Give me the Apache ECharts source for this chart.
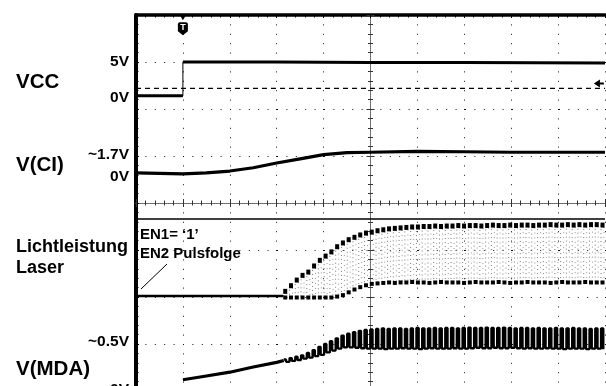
<!DOCTYPE html>
<html>
<head>
<meta charset="utf-8">
<script src="https://cdn.jsdelivr.net/npm/echarts@6/dist/echarts.min.js"></script>
<style>
html, body { margin: 0; padding: 0; background: #fff; }
#main { width: 606px; height: 386px; }
</style>
</head>
<body>
<div id="main"></div>
<script>
// Scope screen: time and level are both in divisions, 0 = centre of the graticule

// VCC: 0V before the trigger, then 5V
var vccBefore = [[-5, 2.28], [-4.0, 2.28]];
var vccEdge = [[-4.0, 2.28], [-4.0, 3.0]];
var vccAfter = [[-4.0, 3.0], [-2, 3.0], [0, 2.99], [2, 2.99], [5, 2.98]];
var vccRef = [[-5, 2.44], [5, 2.44]];

// V(CI): slow rise to ~1.7V
var vciTrace = [[-5, 0.64], [-4, 0.62], [-3.5, 0.64], [-3, 0.68], [-2.5, 0.75], [-2, 0.85],
    [-1.5, 0.94], [-1, 1.03], [-0.5, 1.07], [0, 1.08], [1, 1.10], [2, 1.09], [3, 1.08], [4, 1.08], [5, 1.08]];

var sepLine = [[-5, -0.34], [5, -0.34]];

// Lichtleistung Laser: flat, then pulse train (EN2)
var laserBase = [[-5, -1.98], [-1.86, -1.98]];
var pulseStart = -1.85;
var pulsePeriod = 0.123;
var pulseDuty = 0.4;
var laserHigh = [-1.88, -1.76, -1.64, -1.54, -1.47, -1.34, -1.22, -1.13, -1.04, -0.93,
    -0.85, -0.78, -0.73, -0.68, -0.64, -0.62, -0.59, -0.57, -0.55, -0.54,
    -0.53, -0.52, -0.51, -0.51, -0.50, -0.50, -0.49, -0.50, -0.49, -0.49,
    -0.48, -0.49, -0.48, -0.48, -0.49, -0.48, -0.47, -0.48, -0.48, -0.47,
    -0.48, -0.47, -0.47, -0.48, -0.47, -0.47, -0.46, -0.47, -0.47, -0.46,
    -0.47, -0.46, -0.47, -0.46, -0.46, -0.47];
var laserLow = [-2.0, -2.0, -2.0, -2.0, -2.0, -2.0, -2.0, -2.0, -2.0, -1.98,
    -1.95, -1.89, -1.83, -1.78, -1.74, -1.71, -1.70, -1.69, -1.68, -1.69,
    -1.68, -1.68, -1.67, -1.68, -1.68, -1.69, -1.68, -1.67, -1.68, -1.68,
    -1.68, -1.69, -1.68, -1.67, -1.68, -1.68, -1.68, -1.67, -1.68, -1.69,
    -1.68, -1.68, -1.67, -1.68, -1.68, -1.68, -1.69, -1.68, -1.67, -1.68,
    -1.68, -1.68, -1.67, -1.68, -1.68, -1.68];

// V(MDA): ramp, then follows the pulses
var mdaBefore = [[-5, -3.97], [-4.0, -3.97]];
var mdaRamp = [[-4.0, -3.76], [-3.5, -3.68], [-3, -3.60], [-2.5, -3.49], [-2, -3.39], [-1.85, -3.35]];
var mdaHigh = [-3.33, -3.30, -3.27, -3.24, -3.19, -3.13, -3.06, -3.00, -2.94, -2.88,
    -2.82, -2.78, -2.75, -2.72, -2.70, -2.69, -2.68, -2.67, -2.68, -2.67,
    -2.67, -2.68, -2.67, -2.66, -2.67, -2.67, -2.66, -2.67, -2.66, -2.66,
    -2.67, -2.66, -2.65, -2.66, -2.66, -2.65, -2.66, -2.66, -2.65, -2.66,
    -2.67, -2.66, -2.66, -2.67, -2.66, -2.67, -2.67, -2.66, -2.67, -2.67,
    -2.66, -2.67, -2.67, -2.68, -2.67, -2.67];
var mdaLow = [-3.38, -3.36, -3.34, -3.31, -3.29, -3.26, -3.23, -3.18, -3.14, -3.10,
    -3.07, -3.07, -3.08, -3.09, -3.10, -3.10, -3.10, -3.11, -3.10, -3.10,
    -3.09, -3.10, -3.10, -3.11, -3.10, -3.09, -3.10, -3.10, -3.10, -3.09,
    -3.10, -3.10, -3.09, -3.08, -3.09, -3.09, -3.08, -3.09, -3.09, -3.08,
    -3.09, -3.10, -3.09, -3.10, -3.10, -3.09, -3.10, -3.10, -3.11, -3.10,
    -3.10, -3.10, -3.11, -3.10, -3.10, -3.11];

// labels on the left edge
var levelValues = [3.0, 2.23, 1.02, 0.55, -2.96, -3.98];
var levelLabels = ['5V', '0V', '~1.7V', '0V', '~0.5V', '0V'];
var channelValues = [2.56, 0.81, -1.17, -3.53];
var channelLabels = ['{b|VCC}', '{b|V(CI)}', '{s|Lichtleistung}\n{s|Laser}', '{b|V(MDA)}'];

var FONT = '"Liberation Sans", Arial, sans-serif';

var laserPulses = laserHigh.map(function (h, i) {
    return [pulseStart + i * pulsePeriod, h, laserLow[i]];
});
var mdaWave = [];
mdaHigh.forEach(function (h, i) {
    var t = pulseStart + i * pulsePeriod;
    mdaWave.push([t, h], [t + pulsePeriod * pulseDuty, mdaLow[i]]);
});

var chartDom = document.getElementById('main');
var myChart = echarts.init(chartDom);
var option;

var dotted = { color: '#111', width: 1, type: [1, 8.4] };

function trace(name, data, width, extra) {
    var s = {
        type: 'line',
        name: name,
        data: data,
        symbol: 'none',
        silent: true,
        lineStyle: { color: '#000', width: width }
    };
    return Object.assign(s, extra || {});
}

function centreX(pos) {
    return {
        type: 'value', min: -5, max: 5, interval: 1, position: pos,
        axisLine: { onZero: true, onZeroAxisIndex: 0, lineStyle: { color: '#666', width: 1, type: [1, 1] } },
        axisTick: { show: true, inside: true, length: 4, lineStyle: { color: '#333' } },
        minorTick: { show: true, splitNumber: 5, length: 2.5, lineStyle: { color: '#333' } },
        axisLabel: { show: false },
        splitLine: { show: false }
    };
}

function centreY(pos) {
    return {
        type: 'value', min: -4, max: 4, interval: 1, position: pos,
        axisLine: { onZero: true, onZeroAxisIndex: 0, lineStyle: { color: '#666', width: 1, type: [1, 1] } },
        axisTick: { show: true, inside: true, length: 4, lineStyle: { color: '#333' } },
        minorTick: { show: true, splitNumber: 5, length: 2.5, lineStyle: { color: '#333' } },
        axisLabel: { show: false },
        splitLine: { show: false }
    };
}

option = {
    animation: false,
    backgroundColor: '#fff',
    grid: { left: 136, top: 15, width: 469, height: 376, outerBoundsMode: 'none' },
    xAxis: [
        {
            // top frame
            type: 'value', min: -5, max: 5, interval: 1, position: 'top',
            axisLine: { onZero: false, lineStyle: { color: '#000', width: 3.5 } },
            axisTick: { show: true, inside: true, length: 3, lineStyle: { color: '#000' } },
            minorTick: { show: true, splitNumber: 5, length: 2.5, lineStyle: { color: '#000' } },
            axisLabel: { show: false },
            splitLine: { show: true, lineStyle: dotted }
        },
        centreX('bottom'),
        centreX('top')
    ],
    yAxis: [
        {
            // left frame with level labels
            type: 'value', min: -4, max: 4, interval: 1, position: 'left',
            axisLine: { onZero: false, lineStyle: { color: '#000', width: 4 } },
            axisTick: { show: true, inside: true, length: 3, lineStyle: { color: '#000' } },
            minorTick: { show: true, splitNumber: 5, length: 2.5, lineStyle: { color: '#000' } },
            splitLine: { show: true, lineStyle: dotted },
            axisLabel: {
                customValues: levelValues,
                margin: 7,
                color: '#000',
                fontFamily: FONT,
                fontWeight: 'bold',
                fontSize: 15.5,
                formatter: function (v) {
                    var i = levelValues.indexOf(v);
                    return i < 0 ? '' : levelLabels[i];
                }
            }
        },
        {
            // channel names
            type: 'value', min: -4, max: 4, interval: 1, position: 'left',
            axisLine: { show: false, onZero: false },
            axisTick: { show: false },
            splitLine: { show: false },
            axisLabel: {
                customValues: channelValues,
                align: 'left',
                margin: 120,
                color: '#000',
                formatter: function (v) {
                    var i = channelValues.indexOf(v);
                    return i < 0 ? '' : channelLabels[i];
                },
                rich: {
                    b: { fontFamily: FONT, fontWeight: 'bold', fontSize: 20.5, color: '#000' },
                    s: { fontFamily: FONT, fontWeight: 'bold', fontSize: 18, lineHeight: 21, color: '#000' }
                }
            }
        },
        centreY('left'),
        centreY('right')
    ],
    graphic: [
        {
            type: 'text', left: 140, top: 225, z: 10,
            style: {
                text: 'EN1= \u20181\u2019\nEN2 Pulsfolge',
                fontFamily: FONT, fontWeight: 'bold', fontSize: 15, lineHeight: 19,
                fill: '#000'
            }
        },
        {
            type: 'line', z: 10,
            shape: { x1: 167, y1: 264, x2: 141, y2: 289 },
            style: { stroke: '#000', lineWidth: 1 }
        }
    ],
    series: [
        trace('VCC ref', vccRef, 1.3, {
            lineStyle: { color: '#000', width: 1.3, type: [5, 4] },
            markPoint: {
                silent: true,
                itemStyle: { color: '#000' },
                label: { show: false },
                data: [{
                    coord: [4.87, 2.54],
                    symbol: 'path://M0,4 L6,0 L6,8 Z M6,3 L10,3 L10,5 L6,5 Z',
                    symbolSize: [10, 8]
                }]
            }
        }),
        trace('VCC', vccBefore, 3),
        trace('VCC edge', vccEdge, 1),
        trace('VCC', vccAfter, 3, {
            markPoint: {
                silent: true,
                itemStyle: { color: '#000' },
                data: [
                    {
                        coord: [-4, 3.71],
                        symbol: 'path://M0,2 Q0,0 2,0 L8,0 Q10,0 10,2 L10,9 L5,13 L0,9 Z',
                        symbolSize: [10, 13],
                        label: {
                            show: true, position: 'inside', formatter: 'T', offset: [0, -1],
                            color: '#fff', fontFamily: FONT, fontWeight: 'bold', fontSize: 9
                        }
                    },
                    {
                        coord: [-4, 3.94],
                        symbol: 'triangle', symbolRotate: 180, symbolSize: [6, 5],
                        label: { show: false }
                    }
                ]
            }
        }),
        trace('V(CI)', vciTrace, 3.2),
        trace('separator', sepLine, 1.6),
        trace('Laser', laserBase, 2.6),
        {
            type: 'custom',
            name: 'Laser pulses',
            silent: true,
            data: laserPulses,
            encode: { x: 0, y: [1, 2] },
            renderItem: function (params, api) {
                var top = api.coord([api.value(0), api.value(1)]);
                var bot = api.coord([api.value(0), api.value(2)]);
                return {
                    type: 'group',
                    children: [
                        { type: 'line', shape: { x1: top[0], y1: top[1], x2: bot[0], y2: bot[1] },
                          style: { stroke: '#777', lineWidth: 1, lineDash: [1, 3] } },
                        { type: 'line', shape: { x1: top[0] + 3, y1: top[1] + 2, x2: bot[0] + 3, y2: bot[1] },
                          style: { stroke: '#999', lineWidth: 1, lineDash: [1, 4] } },
                        { type: 'rect', shape: { x: top[0] - 0.5, y: top[1] - 2.5, width: 4, height: 5 },
                          style: { fill: '#000' } },
                        { type: 'rect', shape: { x: bot[0] - 0.5, y: bot[1] - 1.5, width: 4, height: 4 },
                          style: { fill: '#000' } }
                    ]
                };
            }
        },
        trace('V(MDA)', mdaBefore, 3),
        trace('V(MDA)', mdaRamp, 3.2),
        trace('V(MDA) pulses', mdaWave, 2.3, { step: 'end' })
    ]
};

option && myChart.setOption(option);

window.addEventListener('resize', function () {
    myChart.resize();
});
</script>
</body>
</html>
